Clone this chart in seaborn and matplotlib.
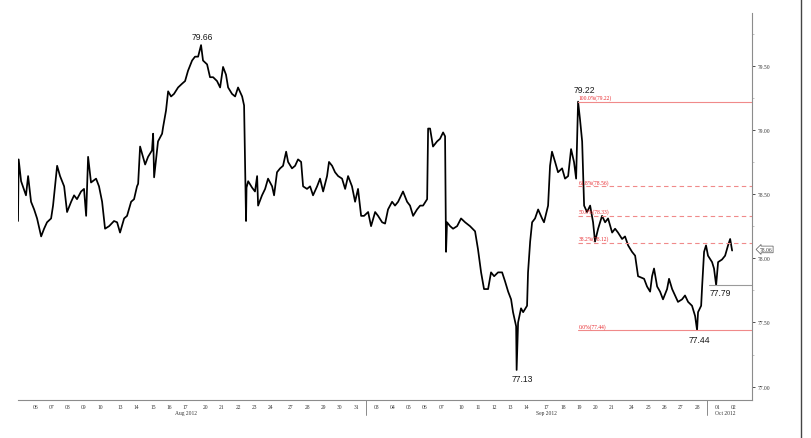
import numpy as np
import pandas as pd
import matplotlib
matplotlib.use("Agg")
import matplotlib.pyplot as plt
import seaborn as sns
from matplotlib.lines import Line2D

# ---------------- data ----------------
# time in trading-session days since 3 Aug 2012 (weekends compressed)
t_days = [0.18, 0.22, 0.37, 0.67, 0.80, 0.98, 1.17, 1.35, 1.60, 1.78, 1.96, 2.21, 2.33, 2.58, 2.76,
          3.01, 3.19, 3.44, 3.62, 3.80, 4.05, 4.23, 4.36, 4.48, 4.66, 4.97, 5.15, 5.34, 5.52, 5.77,
          6.07, 6.26, 6.44, 6.69, 6.87, 7.12, 7.30, 7.48, 7.55, 7.67, 7.85, 7.98, 8.16, 8.40, 8.47,
          8.53, 8.65, 8.77, 9.02, 9.08, 9.26, 9.39, 9.57, 9.75, 10.00, 10.25, 10.43, 10.61, 10.86,
          11.04, 11.23, 11.41, 11.53, 11.78, 11.96, 12.15, 12.39, 12.58, 12.76, 12.94, 13.07, 13.31,
          13.50, 13.68, 13.93, 14.05, 14.17, 14.20, 14.30, 14.54, 14.72, 14.85, 14.91, 15.15, 15.34,
          15.52, 15.77, 15.89, 16.07, 16.26, 16.44, 16.63, 16.75, 16.99, 17.18, 17.36, 17.55, 17.67,
          17.91, 18.10, 18.28, 18.53, 18.71, 18.90, 19.14, 19.26, 19.45, 19.63, 19.82, 20.06, 20.25,
          20.43, 20.67, 20.86, 21.04, 21.23, 21.41, 21.66, 21.84, 22.09, 22.27, 22.52, 22.70, 22.88,
          23.13, 23.31, 23.50, 23.80, 24.05, 24.23, 24.42, 24.66, 24.85, 25.03, 25.28, 25.34, 25.46,
          25.64, 25.89, 26.07, 26.26, 26.38, 26.44, 26.50, 26.69, 26.87, 27.12, 27.36, 27.61, 27.91,
          28.22, 28.40, 28.59, 28.77, 29.02, 29.20, 29.39, 29.63, 29.88, 30.06, 30.25, 30.43, 30.55,
          30.74, 30.77, 30.86, 31.04, 31.17, 31.41, 31.47, 31.60, 31.72, 31.90, 32.09, 32.33, 32.45,
          32.70, 32.82, 32.94, 33.13, 33.31, 33.56, 33.74, 33.93, 34.11, 34.29, 34.42, 34.54, 34.66,
          34.79, 34.91, 35.09, 35.28, 35.46, 35.58, 35.77, 36.01, 36.20, 36.38, 36.63, 36.81, 36.99,
          37.24, 37.42, 37.61, 37.85, 38.04, 38.22, 38.41, 38.59, 38.77, 38.96, 39.08, 39.20, 39.39,
          39.57, 39.75, 40.00, 40.12, 40.31, 40.49, 40.67, 40.92, 41.10, 41.29, 41.53, 41.72, 41.84,
          41.90, 42.09, 42.15, 42.27, 42.39, 42.51, 42.76, 42.88, 43.01, 43.13, 43.37, 43.56, 43.74,
          43.87, 43.99]

price = [78.29, 78.77, 78.60, 78.49, 78.64, 78.44, 78.38, 78.31, 78.17, 78.23, 78.28, 78.31, 78.41, 78.72, 78.64,
         78.56, 78.36, 78.44, 78.49, 78.46, 78.52, 78.54, 78.33, 78.79, 78.59, 78.62, 78.56, 78.44, 78.23, 78.25,
         78.29, 78.28, 78.20, 78.31, 78.33, 78.44, 78.46, 78.56, 78.58, 78.87, 78.79, 78.73, 78.79, 78.84, 78.97,
         78.63, 78.77, 78.91, 78.97, 79.02, 79.15, 79.30, 79.26, 79.28, 79.33, 79.36, 79.38, 79.46, 79.54,
         79.57, 79.57, 79.66, 79.54, 79.51, 79.41, 79.41, 79.38, 79.33, 79.49, 79.43, 79.33, 79.28,
         79.26, 79.33, 79.26, 79.19, 78.29, 78.55, 78.60, 78.55, 78.52, 78.64, 78.41, 78.49, 78.54,
         78.62, 78.56, 78.49, 78.67, 78.70, 78.72, 78.83, 78.75, 78.70, 78.72, 78.77, 78.75, 78.56,
         78.54, 78.56, 78.49, 78.56, 78.62, 78.52, 78.64, 78.75, 78.72, 78.67, 78.64, 78.62, 78.54,
         78.64, 78.56, 78.44, 78.54, 78.33, 78.33, 78.36, 78.25, 78.36, 78.33, 78.28, 78.27, 78.38,
         78.44, 78.41, 78.44, 78.52, 78.44, 78.41, 78.33, 78.38, 78.41, 78.41, 78.46, 79.01, 79.01,
         78.87, 78.91, 78.93, 78.98, 78.95, 78.05, 78.28, 78.25, 78.23, 78.25, 78.31, 78.28, 78.25,
         78.21, 78.07, 77.89, 77.76, 77.76, 77.89, 77.86, 77.89, 77.89, 77.82, 77.74, 77.68, 77.58,
         77.47, 77.13, 77.50, 77.61, 77.58, 77.63, 77.89, 78.13, 78.28, 78.31, 78.38, 78.31, 78.28,
         78.41, 78.72, 78.83, 78.75, 78.67, 78.70, 78.62, 78.64, 78.85, 78.75, 78.62, 79.22, 79.08,
         78.91, 78.41, 78.36, 78.41, 78.28, 78.13, 78.23, 78.33, 78.28, 78.31, 78.20, 78.23, 78.20,
         78.15, 78.17, 78.10, 78.05, 78.02, 77.86, 77.85, 77.84, 77.78, 77.74, 77.86, 77.92, 77.78,
         77.74, 77.68, 77.76, 77.84, 77.76, 77.71, 77.66, 77.68, 77.71, 77.66, 77.63, 77.55, 77.44,
         77.58, 77.63, 77.78, 78.05, 78.10, 78.02, 77.97, 77.92, 77.79, 77.97, 77.99, 78.02, 78.10,
         78.15, 78.06]

fib_labels = ["100.0%", "61.8%", "50.0%", "38.2%", "0.0%"]
fib_levels = [79.22, 78.56, 78.33, 78.12, 77.44]
swing_marks = [79.66, 79.22, 77.13, 77.44, 77.79]
support_level = 77.79
y_ticks = [77.0, 77.5, 78.0, 78.5, 79.0, 79.5]
first_day, last_day = "2012-08-03", "2012-10-02"

# ---------------- figure ----------------
sns.set_style("white")
plt.rcParams["font.family"] = ["Liberation Serif", "DejaVu Serif"]

fig = plt.figure(figsize=(8.12, 4.39), dpi=100)
ax = fig.add_axes([18 / 812, 1 - 401 / 439, (752 - 18) / 812, (401 - 14) / 439])

df = pd.DataFrame({"t": t_days, "price": price})
sns.lineplot(data=df, x="t", y="price", ax=ax, color="black", lw=1.25,
             estimator=None, sort=False, legend=False)

# session positions of trading days
dates = pd.bdate_range(first_day, last_day)
WEEKEND_GAP = 0.23
pos = np.array([i + WEEKEND_GAP * ((d - dates[0]).days - i) / 2 for i, d in enumerate(dates)])

ax.set_xticks(pos[1:])
ax.set_xticklabels([d.strftime("%d") for d in dates[1:]])
ax.tick_params(axis="x", length=0, labelsize=4, colors="#333333", pad=3)

# y axis on right
ax.yaxis.tick_right()
ax.set_yticks(y_ticks)
ax.set_yticklabels([f"{v:.2f}" for v in y_ticks])
ax.set_yticks([v + 0.25 for v in y_ticks], minor=True)
ax.tick_params(axis="y", which="major", direction="out", length=2.5, width=0.6,
               colors="#333333", labelsize=4, pad=1.5, right=True, left=False)
ax.tick_params(axis="y", which="minor", direction="out", length=1.2, width=0.5,
               colors="#aaaaaa", right=True, left=False)
ax.set_xlabel("")
ax.set_ylabel("")

ax.set_xlim(0.18, 45.21)
ax.set_ylim(76.896, 79.91)
ax.set_autoscale_on(False)

# month labels and separators
trans = ax.get_xaxis_transform()
months = pd.Series(pos, index=dates).groupby(dates.to_period("M"))
month_keys = list(months.groups)
for k, (per, s) in enumerate(months):
    n = len(s)
    xm = s.iloc[n // 2] if n > 2 else s.mean()
    ax.text(xm, -0.026, per.strftime("%b %Y"), transform=trans, ha="center", va="top",
            fontsize=4, color="#333333")
    if k > 0:
        prev_last = months.get_group(month_keys[k - 1]).iloc[-1]
        xs = (prev_last + s.iloc[0]) / 2
        ax.plot([xs, xs], [0, -0.04], transform=trans, color="#777777", lw=0.6, clip_on=False)

for side in ["top", "left"]:
    ax.spines[side].set_visible(False)
for side in ["right", "bottom"]:
    ax.spines[side].set_color("#8c8c8c")
    ax.spines[side].set_linewidth(0.8)

p = np.array(price)
t = np.array(t_days)

# Fibonacci retracement lines from the swing high
i_high = int(np.where(np.isclose(p, fib_levels[0]))[0][0])
x0 = t[i_high]
x1 = ax.get_xlim()[1]
for lab, lev in zip(fib_labels, fib_levels):
    solid = lab in ("100.0%", "0.0%")
    ax.plot([x0, x1], [lev, lev], color="#f08a8a", lw=0.8,
            ls="-" if solid else (0, (4, 3)))
    ax.text(x0 + 0.05, lev + 0.012, f"{lab}({lev:.2f})", color="#e8262b",
            fontsize=4, ha="left", va="bottom")

# support line
i_sup = int(np.where(np.isclose(p, support_level))[0][-1])
ax.plot([t[i_sup] - 0.45, x1], [support_level, support_level], color="#9a9a9a", lw=0.8)

# swing annotations
offsets = {79.66: (1, 6.5), 79.22: (4.5, 9), 77.13: (4, -6.5), 77.44: (2, -7), 77.79: (3, -5)}
for v in swing_marks:
    idx = i_high if v == fib_levels[0] else int(np.where(np.isclose(p, v))[0][-1])
    dx, dy = offsets[v]
    ax.annotate(f"{v:.2f}", xy=(t[idx], v), xytext=(dx, dy), textcoords="offset points",
                ha="center", va="center", fontsize=6.2, color="#1a1a1a",
                family=["Liberation Sans", "DejaVu Sans"])

# last-price tag on the right axis
ax.annotate(f"{p[-1]:.2f}", xy=(1.0, p[-1]), xycoords=("axes fraction", "data"),
            xytext=(5.5, 0.8), textcoords="offset points", ha="left", va="center",
            fontsize=4, color="#333333", annotation_clip=False,
            bbox=dict(boxstyle="larrow,pad=0.15", fc="white", ec="#555555", lw=0.5))

# outer frame edge on the right
fig.add_artist(Line2D([801.5 / 812, 801.5 / 812], [0, 1], color="#444444", lw=1.0))

fig.savefig("out.png", dpi=100)
